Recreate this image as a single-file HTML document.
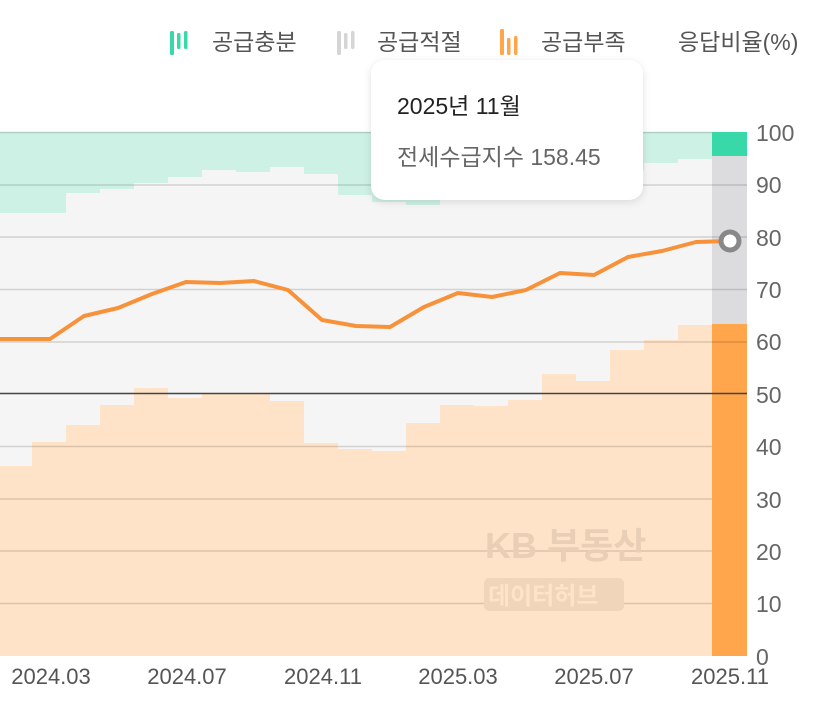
<!DOCTYPE html>
<html><head><meta charset="utf-8"><style>
body{margin:0;background:#fff;width:834px;height:712px;overflow:hidden;font-family:"Liberation Sans","Noto Sans CJK KR",sans-serif}
</style></head><body>
<svg width="834" height="712" xmlns="http://www.w3.org/2000/svg" style="position:absolute;left:0;top:0">
<defs><filter id="sh" x="-20%" y="-20%" width="140%" height="140%"><feDropShadow dx="0" dy="2" stdDeviation="4" flood-opacity="0.12"/></filter></defs>
<rect x="0" y="132" width="747" height="524" fill="#f5f5f5"/>
<rect x="712" y="132" width="35" height="524" fill="#dcdcdf"/>
<g fill="#cdf1e4">
<rect x="-2" y="132" width="34" height="81"/><rect x="32" y="132" width="34" height="81"/><rect x="66" y="132" width="34" height="61"/><rect x="100" y="132" width="34" height="57"/><rect x="134" y="132" width="34" height="51"/><rect x="168" y="132" width="34" height="45"/><rect x="202" y="132" width="34" height="38"/><rect x="236" y="132" width="34" height="40"/><rect x="270" y="132" width="34" height="35"/><rect x="304" y="132" width="34" height="42"/><rect x="338" y="132" width="34" height="63"/><rect x="372" y="132" width="34" height="70"/><rect x="406" y="132" width="34" height="73"/><rect x="440" y="132" width="34" height="68"/><rect x="474" y="132" width="34" height="66"/><rect x="508" y="132" width="34" height="64"/><rect x="542" y="132" width="34" height="60"/><rect x="576" y="132" width="34" height="56"/><rect x="610" y="132" width="34" height="38"/><rect x="644" y="132" width="34" height="31"/><rect x="678" y="132" width="34" height="27"/>
</g>
<rect x="712" y="132" width="35" height="24" fill="#39d8a8"/>
<g fill="#ffe3c8">
<rect x="-2" y="466" width="34" height="190"/><rect x="32" y="442" width="34" height="214"/><rect x="66" y="425" width="34" height="231"/><rect x="100" y="405" width="34" height="251"/><rect x="134" y="388" width="34" height="268"/><rect x="168" y="398" width="34" height="258"/><rect x="202" y="393" width="34" height="263"/><rect x="236" y="393" width="34" height="263"/><rect x="270" y="401" width="34" height="255"/><rect x="304" y="443" width="34" height="213"/><rect x="338" y="449" width="34" height="207"/><rect x="372" y="451" width="34" height="205"/><rect x="406" y="423" width="34" height="233"/><rect x="440" y="405" width="34" height="251"/><rect x="474" y="406" width="34" height="250"/><rect x="508" y="400" width="34" height="256"/><rect x="542" y="374" width="34" height="282"/><rect x="576" y="381" width="34" height="275"/><rect x="610" y="350" width="34" height="306"/><rect x="644" y="340" width="34" height="316"/><rect x="678" y="325" width="34" height="331"/>
</g>
<rect x="712" y="324" width="35" height="332" fill="#ffa54c"/>
<g stroke="#000" stroke-opacity="0.14" stroke-width="1.5">
<line x1="0" x2="712" y1="132.5" y2="132.5"/><line x1="0" x2="747" y1="185" y2="185"/><line x1="0" x2="747" y1="237" y2="237"/><line x1="0" x2="747" y1="289.5" y2="289.5"/><line x1="0" x2="747" y1="342" y2="342"/><line x1="0" x2="712" y1="446.5" y2="446.5"/><line x1="0" x2="712" y1="499" y2="499"/><line x1="0" x2="712" y1="551" y2="551"/><line x1="0" x2="712" y1="603.5" y2="603.5"/>
</g>
<line x1="0" x2="747" y1="393.5" y2="393.5" stroke="#444" stroke-width="1.5"/>
<text x="485" y="558" font-size="36" fill="#e9cfb6" font-weight="bold">KB 부동산</text>
<rect x="484" y="578" width="140" height="33" rx="5" fill="#f0d5bb"/>
<text x="488" y="604" font-size="24" fill="#ffe3c8" font-weight="bold">데이터허브</text>
<polyline fill="none" stroke="#f7923a" stroke-width="4" stroke-linejoin="round" points="0,339 17,339 50,339 84,316 118,308 152,294 186,282 220,283 254,281 288,290 322,320 356,326 390,327 424,307 458,293 492,297 526,290 560,273 594,275 628,257 662,251 696,242 730,241"/>
<circle cx="730" cy="241" r="9" fill="#fff" stroke="#888" stroke-width="5"/>
<g font-size="23" fill="#666">
<text x="756" y="141">100</text><text x="756" y="193">90</text><text x="756" y="246">80</text><text x="756" y="298">70</text><text x="756" y="350">60</text><text x="756" y="403">50</text><text x="756" y="455">40</text><text x="756" y="508">30</text><text x="756" y="560">20</text><text x="756" y="612">10</text><text x="756" y="665">0</text>
</g>
<g font-size="22" fill="#555" text-anchor="middle">
<text x="51" y="684">2024.03</text><text x="187" y="684">2024.07</text><text x="323" y="684">2024.11</text><text x="458" y="684">2025.03</text><text x="594" y="684">2025.07</text><text x="730" y="684">2025.11</text>
</g>
<g>
<rect x="170" y="31" width="4" height="24" rx="1.5" fill="#39d8a8"/><rect x="177" y="33" width="3.5" height="16" rx="1.5" fill="#39d8a8"/><rect x="184" y="31" width="3.5" height="18" rx="1.5" fill="#39d8a8"/>
<text x="212" y="50" font-size="23" fill="#555">공급충분</text>
<rect x="337" y="31" width="4" height="24" rx="1.5" fill="#d5d5d5"/><rect x="344" y="33" width="3.5" height="16" rx="1.5" fill="#d5d5d5"/><rect x="351" y="31" width="3.5" height="18" rx="1.5" fill="#d5d5d5"/>
<text x="377" y="50" font-size="23" fill="#555">공급적절</text>
<rect x="500" y="29" width="4" height="26" rx="1.5" fill="#ffa54c"/><rect x="507" y="38" width="3.5" height="17" rx="1.5" fill="#ffa54c"/><rect x="514" y="36" width="3.5" height="19" rx="1.5" fill="#ffa54c"/>
<text x="541" y="50" font-size="23" fill="#555">공급부족</text>
<text x="678" y="50" font-size="23" fill="#555">응답비율(%)</text>
</g>
<rect x="371" y="60" width="272" height="140" rx="14" fill="#fff" filter="url(#sh)"/>
<text x="397" y="114" font-size="23" fill="#222">2025년 11월</text>
<text x="397" y="165" font-size="23" fill="#666">전세수급지수 158.45</text>
</svg>
</body></html>
